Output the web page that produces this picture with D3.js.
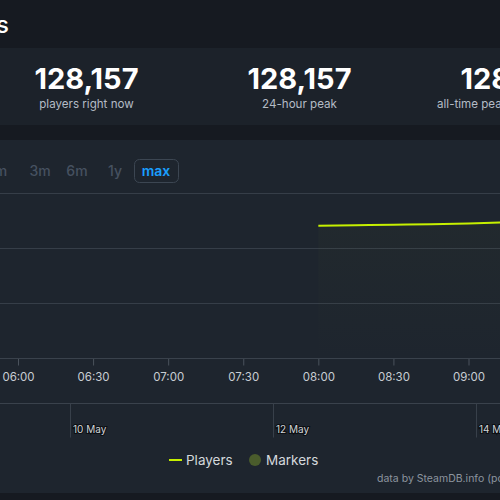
<!DOCTYPE html>
<html><head><meta charset="utf-8">
<script src="https://cdn.jsdelivr.net/npm/d3@7"></script>
<style>
html,body{margin:0;padding:0;background:#1e252e;overflow:hidden}
svg{display:block;font-family:Inter,"Noto Sans",sans-serif}
</style></head><body>
<svg id="c" width="500" height="500"></svg>
<script>
// ---- data ----
const statValues = ["128,157", "128,157", "128,157"];
const statLabels = ["players right now", "24-hour peak", "all-time peak"];
const rangeTabs = ["1m", "3m", "6m", "1y", "max"];
const playerTimes = ["2024-05-14T08:00", "2024-05-14T08:15", "2024-05-14T08:30", "2024-05-14T08:45", "2024-05-14T09:00", "2024-05-14T09:15", "2024-05-14T09:30"];
const playerCounts = [120300, 120700, 121100, 121600, 122300, 123300, 124500];
const yTicks = [0, 50000, 100000, 150000];
const xTickTimes = ["2024-05-14T06:00", "2024-05-14T06:30", "2024-05-14T07:00", "2024-05-14T07:30", "2024-05-14T08:00", "2024-05-14T08:30", "2024-05-14T09:00"];
const navTicks = ["2024-05-10", "2024-05-12", "2024-05-14"];
const legendItems = ["Players", "Markers"];
const credit = "data by SteamDB.info (powered by highcharts)";

const parse = d3.isoParse;
const svg = d3.select("#c");

// backgrounds
svg.append("rect").attr("x",0).attr("y",0).attr("width",500).attr("height",48).attr("fill","#161a21");
svg.append("rect").attr("x",0).attr("y",48).attr("width",500).attr("height",77).attr("fill","#1c222a");
svg.append("rect").attr("x",0).attr("y",125).attr("width",500).attr("height",15).attr("fill","#161a21");
svg.append("rect").attr("x",0).attr("y",140).attr("width",500).attr("height",353).attr("fill","#1e252e");
svg.append("rect").attr("x",0).attr("y",493).attr("width",500).attr("height",7).attr("fill","#161a21");

// heading fragment
svg.append("text").attr("x",9).attr("y",33).attr("text-anchor","end")
  .attr("fill","#ffffff").attr("font-size",24).attr("font-weight",500).text("s");

// stats
const statX = d3.scaleLinear().domain([0,1]).range([86.5, 299.5]);
statValues.forEach((v,i)=>{
  svg.append("text").attr("x",statX(i)).attr("y",89).attr("text-anchor","middle")
    .attr("fill","#ffffff").attr("font-size",29).attr("font-weight",700).text(v);
  const lbl = svg.append("text").attr("y",108)
    .attr("fill","#b4bcc6").attr("font-size",11.6).text(statLabels[i]);
  if(i < 2) lbl.attr("x",statX(i)).attr("text-anchor","middle");
  else lbl.attr("x",437).attr("text-anchor","start");
});

// range tabs
const tabX = [-2, 40, 77, 115, 156];
rangeTabs.forEach((t,i)=>{
  const active = t === "max";
  if(active){
    svg.append("rect").attr("x",134.5).attr("y",159.5).attr("width",44).attr("height",23).attr("rx",5)
      .attr("fill","none").attr("stroke","#3c4652");
  }
  svg.append("text").attr("x",tabX[i]).attr("y",176).attr("text-anchor","middle")
    .attr("fill", active ? "#1a9fff" : "#465160").attr("font-size",14).attr("font-weight",active?600:500).text(t);
});

// scales
const x = d3.scaleTime().domain([parse(xTickTimes[0]), parse(xTickTimes[6])]).range([18, 468.5]);
const y = d3.scaleLinear().domain([0,150000]).range([358,193]);

// grid
svg.append("g").selectAll("line").data(yTicks.slice(1)).join("line")
  .attr("x1",0).attr("x2",500).attr("y1",d=>y(d)+0.5).attr("y2",d=>y(d)+0.5)
  .attr("stroke","#363e48").attr("stroke-width",1);

// area + line
const data = playerTimes.map((t,i)=>({t:parse(t), v:playerCounts[i]}));
const defs = svg.append("defs");
const grad = defs.append("linearGradient").attr("id","ag").attr("x1",0).attr("y1",0).attr("x2",0).attr("y2",1);
grad.append("stop").attr("offset","0%").attr("stop-color","#5a6a2a").attr("stop-opacity",0.06);
grad.append("stop").attr("offset","100%").attr("stop-color","#5a6a2a").attr("stop-opacity",0.0);
svg.append("path").datum(data)
  .attr("d", d3.area().x(d=>x(d.t)).y0(y(0)).y1(d=>y(d.v)).curve(d3.curveMonotoneX))
  .attr("fill","url(#ag)");
svg.append("path").datum(data)
  .attr("d", d3.line().x(d=>x(d.t)).y(d=>y(d.v)).curve(d3.curveMonotoneX))
  .attr("fill","none").attr("stroke","#c6f000").attr("stroke-width",2);

// x axis
const xAxis = d3.axisBottom(x).tickValues(xTickTimes.map(parse)).tickFormat(d3.timeFormat("%H:%M"))
  .tickSizeInner(7).tickSizeOuter(0).tickPadding(7);
const gx = svg.append("g").attr("transform","translate(0,358.5)").call(xAxis);
gx.select(".domain").remove();
svg.append("line").attr("x1",0).attr("x2",500).attr("y1",358.5).attr("y2",358.5).attr("stroke","#3a424c");
gx.selectAll(".tick line").attr("stroke","#4a525c");
gx.selectAll(".tick text").attr("fill","#c8cdd3").attr("font-size",11.5).attr("font-family","Inter,sans-serif");

// navigator
const nx = d3.scaleTime().domain([parse(navTicks[0]), parse(navTicks[2])]).range([70, 476]);
svg.append("line").attr("x1",0).attr("x2",500).attr("y1",403.5).attr("y2",403.5).attr("stroke","#3a424c");
const gn = svg.append("g").attr("transform","translate(0,403.5)")
  .call(d3.axisBottom(nx).tickValues(navTicks.map(parse)).tickFormat(d3.timeFormat("%-d %b")).tickSizeInner(34).tickSizeOuter(0).tickPadding(0));
gn.select(".domain").remove();
gn.selectAll(".tick line").attr("stroke","#38404a");
gn.selectAll(".tick text").attr("fill","#d0d4d8").attr("font-size",10).attr("text-anchor","start")
  .attr("x",2.5).attr("y",22).attr("dy","0.71em")
  .attr("stroke","#0c0f13").attr("stroke-width",2.2).attr("paint-order","stroke")
  .attr("font-family","Inter,sans-serif");

// legend
const lg = svg.append("g");
lg.append("line").attr("x1",169).attr("x2",182).attr("y1",460).attr("y2",460).attr("stroke","#c6f000").attr("stroke-width",2);
lg.append("text").attr("x",186).attr("y",465).attr("fill","#d4d8dc").attr("font-size",13.5).text(legendItems[0]);
lg.append("circle").attr("cx",255).attr("cy",460).attr("r",6).attr("fill","#4a5c2c");
lg.append("text").attr("x",266).attr("y",465).attr("fill","#d4d8dc").attr("font-size",13.5).text(legendItems[1]);

// credit
svg.append("text").attr("x",377).attr("y",482).attr("fill","#8c949e").attr("font-size",10.5).text(credit);
</script>
</body></html>
